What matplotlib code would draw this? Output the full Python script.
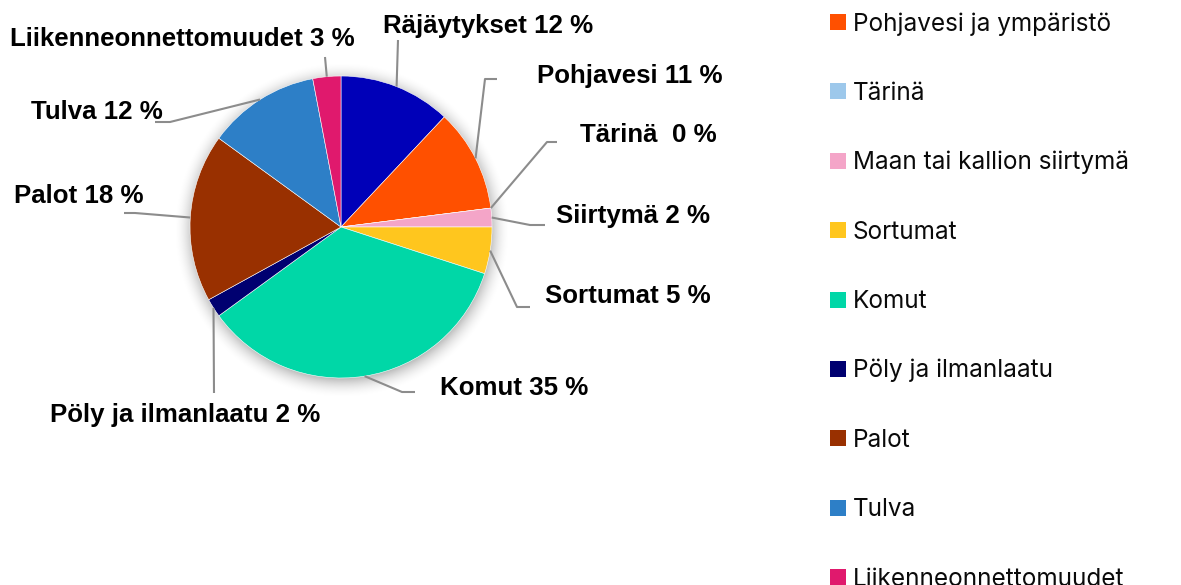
import numpy as np
import matplotlib
matplotlib.use("Agg")
import matplotlib.pyplot as plt
from matplotlib.patches import Rectangle

# ---- data ----
categories = ["Räjäytykset", "Pohjavesi", "Tärinä", "Siirtymä", "Sortumat",
              "Komut", "Pöly ja ilmanlaatu", "Palot", "Tulva", "Liikenneonnettomuudet"]
values = [12, 11, 0, 2, 5, 35, 2, 18, 12, 3]
label_texts = ["Räjäytykset 12 %", "Pohjavesi 11 %", "Tärinä  0 %", "Siirtymä 2 %",
               "Sortumat 5 %", "Komut 35 %", "Pöly ja ilmanlaatu 2 %", "Palot 18 %",
               "Tulva 12 %", "Liikenneonnettomuudet 3 %"]
colors = ["#0000B8", "#FF5000", "#9DC8EB", "#F4A5C8", "#FFC61E",
          "#00D7A7", "#000070", "#993000", "#2D7FC7", "#E0196D"]
legend_labels = ["Pohjavesi ja ympäristö", "Tärinä", "Maan tai kallion siirtymä",
                 "Sortumat", "Komut", "Pöly ja ilmanlaatu", "Palot", "Tulva",
                 "Liikenneonnettomuudet"]
legend_colors = colors[1:]

# ---- layout (pixel coordinates of the 1181x585 canvas) ----
W, H = 1181, 585
cx, cy, R = 341, 227, 151
# text anchor (x, baseline y, ha) and elbow points of each leader line
label_pos = [(383, 33, "left"), (537, 83, "left"), (580, 142, "left"),
             (556, 223, "left"), (545, 303, "left"), (440, 395, "left"),
             (185, 422, "center"), (14, 203, "left"), (31, 119, "left"),
             (10, 46, "left")]
elbows = [[(398, 40)], [(485, 79), (497, 79)], [(547, 142), (557, 142)],
          [(530, 225), (545, 225)], [(517, 307), (530, 307)],
          [(402, 392), (415, 392)], [(214, 393)], [(135, 213), (124, 213)],
          [(170, 122), (155, 122)], [(325, 57)]]

fig = plt.figure(figsize=(W / 100, H / 100), dpi=100)
ax = fig.add_axes([0, 0, 1, 1])

# soft shadow around the pie
yy, xx = np.mgrid[0:H, 0:W]
d = np.hypot(xx + 0.5 - (cx + 1), yy + 0.5 - (cy + 3))
a = np.clip(1 - (d - R + 4) / 22, 0, 1) ** 2 * 0.30
shadow = np.zeros((H, W, 4))
shadow[..., 3] = a
ax.imshow(shadow, extent=(0, W, H, 0), zorder=0, interpolation="bilinear")

wedges, _ = ax.pie(values, colors=colors, startangle=-90, counterclock=True,
                   center=(cx, cy), radius=R,
                   wedgeprops=dict(edgecolor="white", linewidth=0.4))
for w in wedges:
    w.set_zorder(2)

for w, txt, (tx, ty, ha), elb in zip(wedges, label_texts, label_pos, elbows):
    mid = np.deg2rad((w.theta1 + w.theta2) / 2)
    ex, ey = cx + R * np.cos(mid), cy + R * np.sin(mid)
    pts = [(ex, ey)] + elb
    ax.plot([p[0] for p in pts], [p[1] for p in pts], color="#8c8c8c",
            lw=1.5, zorder=3, solid_capstyle="butt")
    ax.text(tx, ty, txt, ha=ha, va="baseline", fontsize=18.6,
            fontweight="bold", family="Liberation Sans", color="black", zorder=4)

# legend (top entry lies outside the canvas, as in the original)
leg_y0, leg_dy = 22, 69.4
for i, (lab, col) in enumerate(zip(legend_labels, legend_colors)):
    yc = leg_y0 + i * leg_dy
    ax.add_patch(Rectangle((830, yc - 8), 16, 16, facecolor=col, edgecolor="none", zorder=4))
    ax.text(853, yc + 8.5, lab, ha="left", va="baseline", fontsize=17.5,
            family="Inter", color="#0a0a0a", zorder=4)

ax.set_xlim(0, W)
ax.set_ylim(H, 0)
ax.set_aspect("equal")
ax.axis("off")
fig.savefig("out.png", dpi=100)
